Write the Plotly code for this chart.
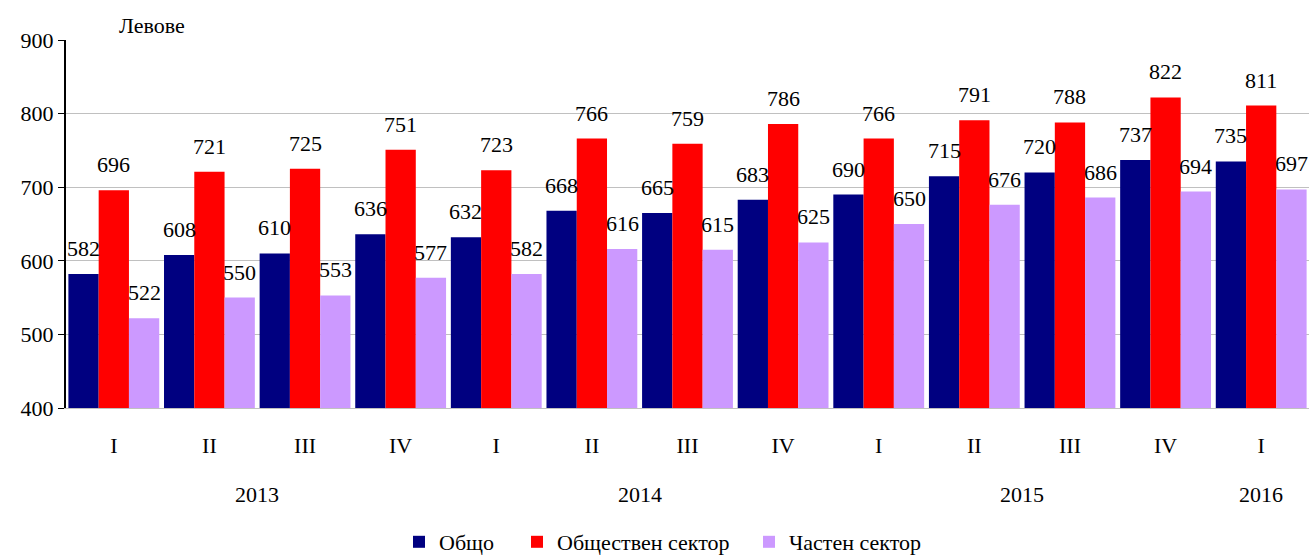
import plotly.graph_objects as go

quarters = ["I", "II", "III", "IV", "I", "II", "III", "IV", "I", "II", "III", "IV", "I"]
years = ["2013", "2014", "2015", "2016"]
year_positions = [1.5, 5.5, 9.5, 12]  # centre of each year's quarters (category index)

obshto = [582, 608, 610, 636, 632, 668, 665, 683, 690, 715, 720, 737, 735]
obshtestven = [696, 721, 725, 751, 723, 766, 759, 786, 766, 791, 788, 822, 811]
chasten = [522, 550, 553, 577, 582, 616, 615, 625, 650, 676, 686, 694, 697]

series_names = ["Общо", "Обществен сектор", "Частен сектор"]
series_values = [obshto, obshtestven, chasten]
colors = ["#000080", "#FF0000", "#CC99FF"]

FONT = "Liberation Serif"
bargap = 0.05
n_series = 3
bar_w = (1 - bargap) / n_series
xs = list(range(len(quarters)))

legend_ids = ["legend", "legend2", "legend3"]
legend_x_px = [399, 517, 749]

fig = go.Figure()
for name, vals, col, lid in zip(series_names, series_values, colors, legend_ids):
    fig.add_trace(go.Bar(x=xs, y=vals, name=name, marker=dict(color=col, line=dict(width=0)),
                         hoverinfo="skip", legend=lid))

annotations = []
for k, vals in enumerate(series_values):
    off = (k - (n_series - 1) / 2) * bar_w
    for i, v in enumerate(vals):
        annotations.append(dict(x=i + off, y=v, xref="x", yref="y", text=str(v), showarrow=False,
                                yanchor="bottom", xanchor="center", yshift=11,
                                font=dict(family=FONT, size=22, color="black")))

for yr, pos in zip(years, year_positions):
    annotations.append(dict(x=pos, y=-0.236, xref="x", yref="paper", text=yr, showarrow=False,
                            yanchor="middle", xanchor="center",
                            font=dict(family=FONT, size=22, color="black")))

annotations.append(dict(x=(152 - 66) / 1243, y=1.04, xref="paper", yref="paper", text="Левове",
                        showarrow=False, xanchor="center", yanchor="middle",
                        font=dict(family=FONT, size=22, color="black")))

legend_common = dict(orientation="h", xref="container", yref="container", xanchor="left",
                     y=(556 - 542) / 556, yanchor="middle",
                     font=dict(family=FONT, size=22, color="black"), bgcolor="rgba(0,0,0,0)")

fig.update_layout(
    width=1309, height=556,
    margin=dict(l=66, r=0, t=40, b=148),
    paper_bgcolor="white", plot_bgcolor="white",
    barmode="group", bargap=bargap, bargroupgap=0,
    font=dict(family=FONT, size=22, color="black"),
    showlegend=True,
    annotations=annotations,
)
for lid, lx in zip(legend_ids, legend_x_px):
    fig.update_layout({lid: dict(legend_common, x=lx / 1309)})

fig.update_xaxes(
    tickmode="array", tickvals=xs, ticktext=quarters,
    range=[-0.5, len(quarters) - 0.5],
    showgrid=False, zeroline=False, showline=True, linecolor="#C0C0C0", linewidth=1,
    ticks="", ticklabelstandoff=18,
    tickfont=dict(family=FONT, size=22, color="black"),
)
fig.update_yaxes(
    range=[400, 900], tickmode="linear", tick0=400, dtick=100,
    showgrid=True, gridcolor="#C0C0C0", gridwidth=1,
    showline=True, linecolor="black", linewidth=2,
    ticks="outside", ticklen=6, tickcolor="black", tickwidth=1,
    zeroline=False,
    tickfont=dict(family=FONT, size=22, color="black"),
)

fig.write_html("out.html", config={"displayModeBar": False},
               post_script="document.body.style.margin='0';document.body.style.overflow='hidden';")
